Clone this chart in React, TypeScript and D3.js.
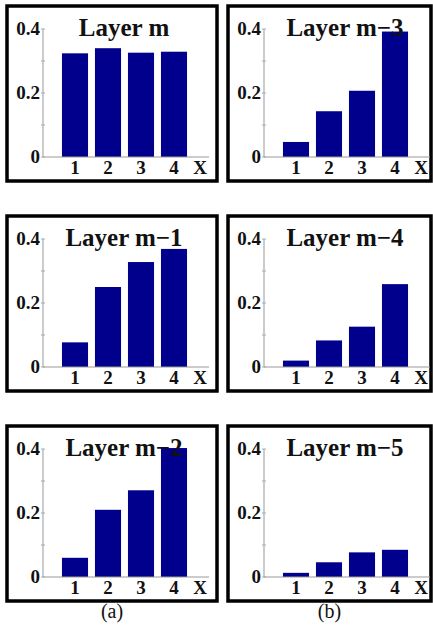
import React from "react";
import * as d3 from "d3";

const categories = [1, 2, 3, 4];
const layerM = [0.324, 0.340, 0.326, 0.329];
const layerM1 = [0.077, 0.250, 0.328, 0.369];
const layerM2 = [0.060, 0.210, 0.271, 0.403];
const layerM3 = [0.047, 0.143, 0.207, 0.392];
const layerM4 = [0.020, 0.083, 0.126, 0.259];
const layerM5 = [0.013, 0.046, 0.077, 0.085];
const titles = ["Layer m", "Layer m\u22121", "Layer m\u22122", "Layer m\u22123", "Layer m\u22124", "Layer m\u22125"];
const yTickLabels = [0, 0.2, 0.4];
const yMinorTicks = [0, 0.1, 0.2, 0.3, 0.4];
const captions = ["(a)", "(b)"];

const series = [layerM, layerM1, layerM2, layerM3, layerM4, layerM5];

const W = 433;
const H = 632;
const colX = [7, 228];
const colW = [210, 203];
const rowTop = [6, 216, 426];
const panelH = 175;
const font = "'Liberation Serif', 'Times New Roman', serif";
const barColor = "#00008c";

function Panel({ values, title, x0, w, y0 }: { values: number[]; title: string; x0: number; w: number; y0: number }) {
  const axisX = x0 + 36;
  const zero = y0 + 151;
  const y = d3.scaleLinear().domain([0, 0.4]).range([zero, zero - 128]);
  const x = d3
    .scaleBand<number>()
    .domain(categories)
    .range([axisX + 15.5, axisX + 147.5])
    .paddingInner(0.21)
    .paddingOuter(0.105);
  return (
    <g>
      <rect x={x0} y={y0} width={w} height={panelH} fill="#fff" stroke="#000" strokeWidth={3.5} />
      {categories.map((c, i) => (
        <rect
          key={c}
          x={x(c)}
          y={y(values[i])}
          width={x.bandwidth()}
          height={zero - y(values[i])}
          fill={barColor}
        />
      ))}
      <line x1={axisX} x2={axisX} y1={y(0.4)} y2={zero} stroke="#999" strokeWidth={1} />
      <line x1={axisX} x2={axisX + 166} y1={zero} y2={zero} stroke="#999" strokeWidth={1} />
      {yMinorTicks.map((t) => (
        <line key={t} x1={axisX - 2} x2={axisX + 2} y1={y(t)} y2={y(t)} stroke="#aaa" strokeWidth={1} />
      ))}
      {yTickLabels.map((t) => (
        <text
          key={t}
          x={axisX - 3}
          y={y(t) + 6}
          textAnchor="end"
          fontFamily={font}
          fontWeight="bold"
          fontSize={19}
          fill="#111"
        >
          {t === 0 ? "0" : d3.format(".1f")(t)}
        </text>
      ))}
      {categories.map((c) => (
        <text
          key={c}
          x={(x(c) as number) + x.bandwidth() / 2}
          y={zero + 17}
          textAnchor="middle"
          fontFamily={font}
          fontWeight="bold"
          fontSize={19}
          fill="#111"
        >
          {c}
        </text>
      ))}
      <text x={axisX + 157} y={zero + 17} textAnchor="middle" fontFamily={font} fontWeight="bold" fontSize={19} fill="#111">
        X
      </text>
      <text x={axisX + 81} y={y0 + 30} textAnchor="middle" fontFamily={font} fontWeight="bold" fontSize={25} fill="#111">
        {title}
      </text>
    </g>
  );
}

export default function App() {
  return (
    <svg
      width={W}
      height={H}
      style={{ position: "absolute", left: 0, top: 0, background: "#fff" }}
    >
      <rect x={0} y={0} width={W} height={H} fill="#fff" />
      {series.map((vals, i) => {
        const col = Math.floor(i / 3);
        const row = i % 3;
        return (
          <Panel key={i} values={vals} title={titles[i]} x0={colX[col]} w={colW[col]} y0={rowTop[row]} />
        );
      })}
      {captions.map((c, i) => (
        <text key={c} x={colX[i] + colW[i] / 2} y={618} textAnchor="middle" fontFamily={font} fontSize={20} fill="#111">
          {c}
        </text>
      ))}
    </svg>
  );
}
